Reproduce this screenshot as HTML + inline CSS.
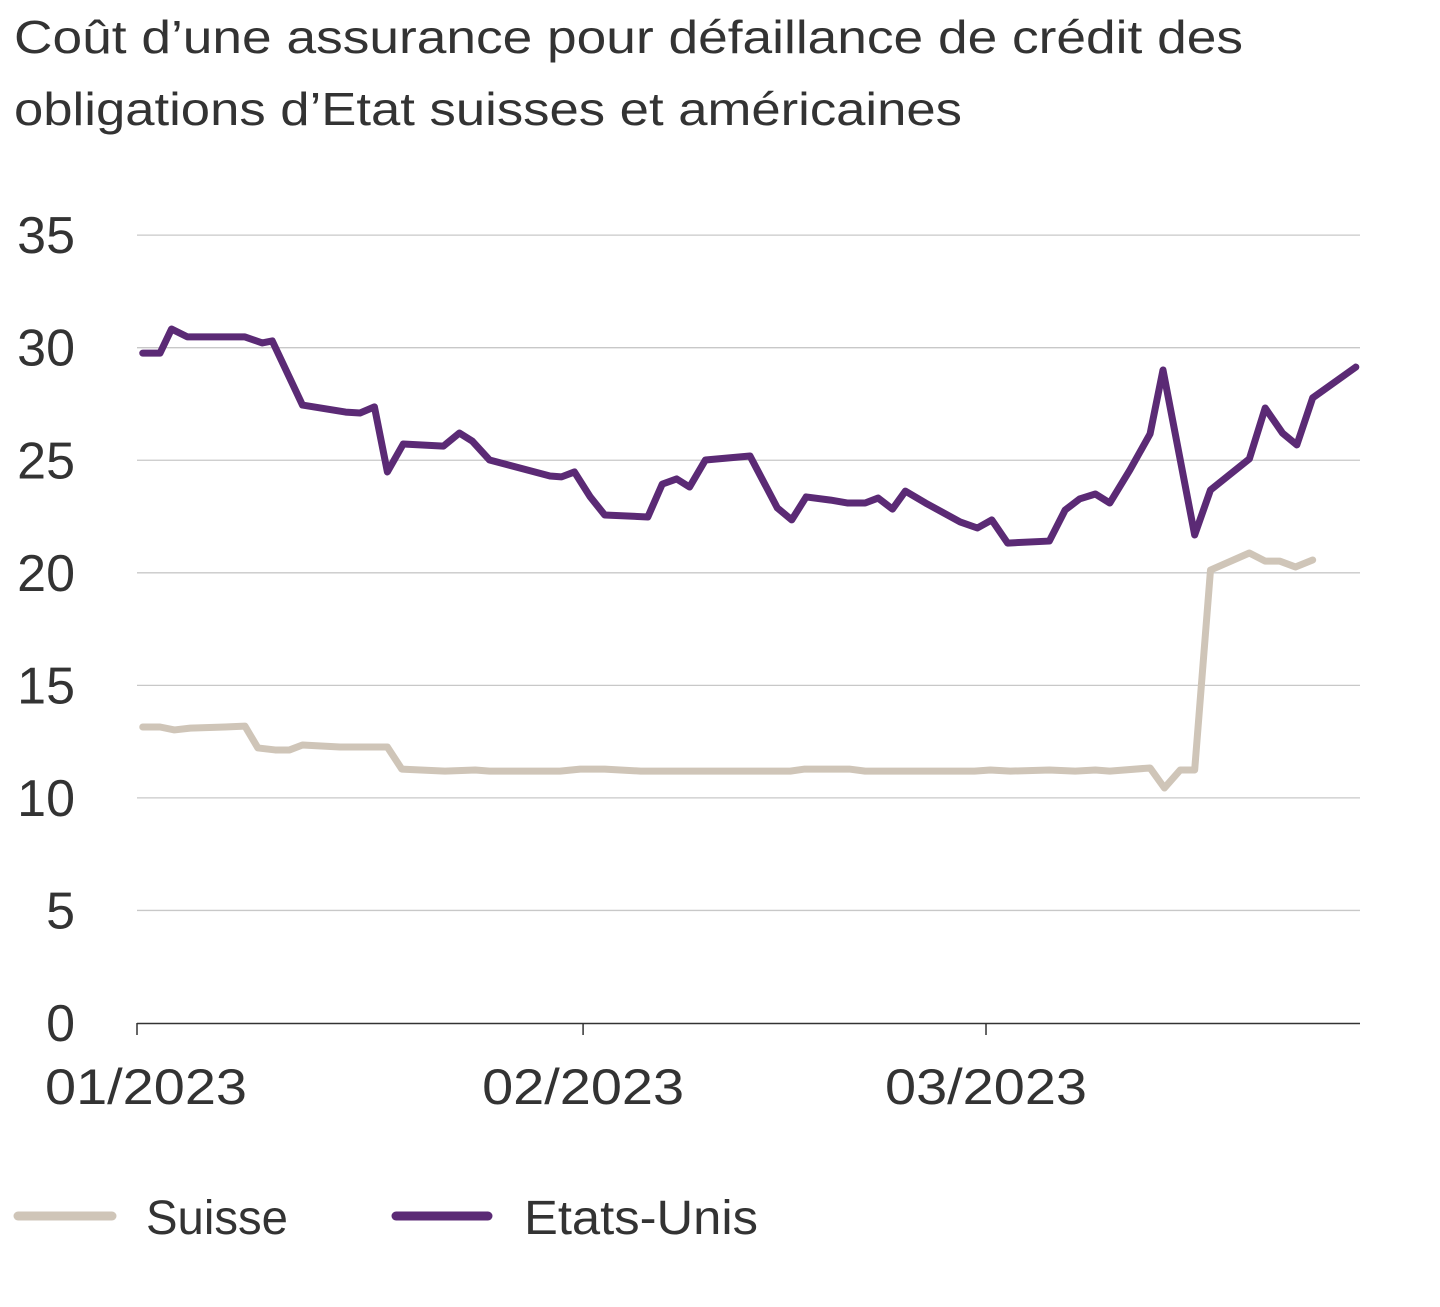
<!DOCTYPE html>
<html><head><meta charset="utf-8"><style>
html,body{margin:0;padding:0;background:#fff;}
svg{display:block;font-family:"Liberation Sans",sans-serif;}
</style></head><body>
<svg id="chart" width="1440" height="1307" viewBox="0 0 1440 1307" xmlns="http://www.w3.org/2000/svg">
<text x="14" y="53" font-size="46" fill="#333" textLength="1229" lengthAdjust="spacingAndGlyphs">Coût d’une assurance pour défaillance de crédit des</text>
<text x="14" y="125" font-size="46" fill="#333" textLength="948" lengthAdjust="spacingAndGlyphs">obligations d’Etat suisses et américaines</text>
<g id="grid"></g>
<g id="yticks"></g>
<g id="xaxis"></g>
<g id="series"></g>
<g>
<line x1="18" y1="1216" x2="112" y2="1216" stroke="#cfc5b8" stroke-width="9" stroke-linecap="round"/>
<text x="146" y="1234" font-size="48" fill="#333" textLength="142" lengthAdjust="spacingAndGlyphs">Suisse</text>
<line x1="396" y1="1216" x2="488" y2="1216" stroke="#5b2a75" stroke-width="9" stroke-linecap="round"/>
<text x="524" y="1234" font-size="48" fill="#333" textLength="234" lengthAdjust="spacingAndGlyphs">Etats-Unis</text>
</g>
</svg>
<script>
const yTicks=[0,5,10,15,20,25,30,35];
const xTickDays=[0,31,59];
const xTickLabels=["01/2023","02/2023","03/2023"];
const usDays=[0.4,1.6,2.4,3.5,7.5,8.7,9.4,11.5,14.5,15.5,16.5,17.4,18.5,21.3,22.4,23.3,24.5,28.7,29.5,30.4,31.5,32.5,35.5,36.5,37.5,38.4,39.5,42.6,44.5,45.5,46.5,48.2,49.4,50.6,51.5,52.5,53.4,54.8,57.2,58.4,59.4,60.5,63.4,64.5,65.5,66.6,67.6,69,70.4,71.3,73.5,74.6,77.3,78.4,79.6,80.6,81.7,84.7];
const usValues=[29.76,29.76,30.83,30.48,30.48,30.21,30.3,27.45,27.14,27.1,27.37,24.48,25.72,25.63,26.21,25.85,25.01,24.3,24.26,24.48,23.37,22.57,22.48,23.94,24.17,23.81,25.01,25.19,22.88,22.35,23.37,23.23,23.1,23.1,23.32,22.83,23.63,23.1,22.26,21.99,22.35,21.32,21.41,22.79,23.28,23.5,23.1,24.57,26.17,29.01,21.68,23.68,25.06,27.32,26.21,25.68,27.77,29.14];
const chDays=[0.4,1.6,2.6,3.7,6.1,7.5,8.4,9.6,10.6,11.5,14.1,17.4,18.4,21.4,23.5,24.5,29.4,30.8,32.5,35,45.4,46.4,49.5,50.6,58.2,59.3,60.7,63.4,65.2,66.6,67.6,70.4,71.4,72.5,73.5,74.6,77.3,78.4,79.4,80.5,81.7];
const chValues=[13.15,13.15,13.02,13.1,13.15,13.19,12.22,12.13,12.13,12.35,12.26,12.26,11.28,11.19,11.24,11.19,11.19,11.28,11.28,11.19,11.19,11.28,11.28,11.19,11.19,11.24,11.19,11.24,11.19,11.24,11.19,11.33,10.44,11.24,11.24,20.12,20.88,20.52,20.52,20.26,20.57];
const NS="http://www.w3.org/2000/svg";
const y=v=>1023-v*22.51;
const x=d=>137+d*14.39;
function mk(tag,attrs,parent){const e=document.createElementNS(NS,tag);for(const k in attrs)e.setAttribute(k,attrs[k]);parent.appendChild(e);return e;}
const grid=document.getElementById('grid'),yt=document.getElementById('yticks'),xa=document.getElementById('xaxis'),se=document.getElementById('series');
yTicks.forEach(v=>{
 if(v>0){const l=mk('line',{x1:137,x2:1360,y1:y(v),y2:y(v),stroke:'#c8c8c8','stroke-width':1.3},grid);
 
 }
 const t=mk('text',{x:75,y:y(v)+18,'text-anchor':'end','font-size':52,fill:'#333'},yt);t.textContent=v;
 
 
});
const ax=mk('line',{x1:137,x2:1360,y1:1023.5,y2:1023.5,stroke:'#333','stroke-width':1.5},xa);


xTickDays.forEach((d,i)=>{
 const tk=mk('line',{x1:x(d),x2:x(d),y1:1023,y2:1035,stroke:'#333','stroke-width':1.5},xa);
 
 
 const t=mk('text',{x:Math.max(x(d)-101,45),y:1104,'font-size':50,fill:'#333',textLength:202,lengthAdjust:'spacingAndGlyphs'},xa);t.textContent=xTickLabels[i];
 
 
});
function line(days,vals,color,name){
 const p=mk('polyline',{points:days.map((d,i)=>x(d)+','+y(vals[i])).join(' '),fill:'none',stroke:color,'stroke-width':7,'stroke-linejoin':'round','stroke-linecap':'round'},se);
 
 
}
line(chDays,chValues,'#cfc5b8','line-suisse');
line(usDays,usValues,'#5b2a75','line-etats-unis');
</script>
</body></html>
